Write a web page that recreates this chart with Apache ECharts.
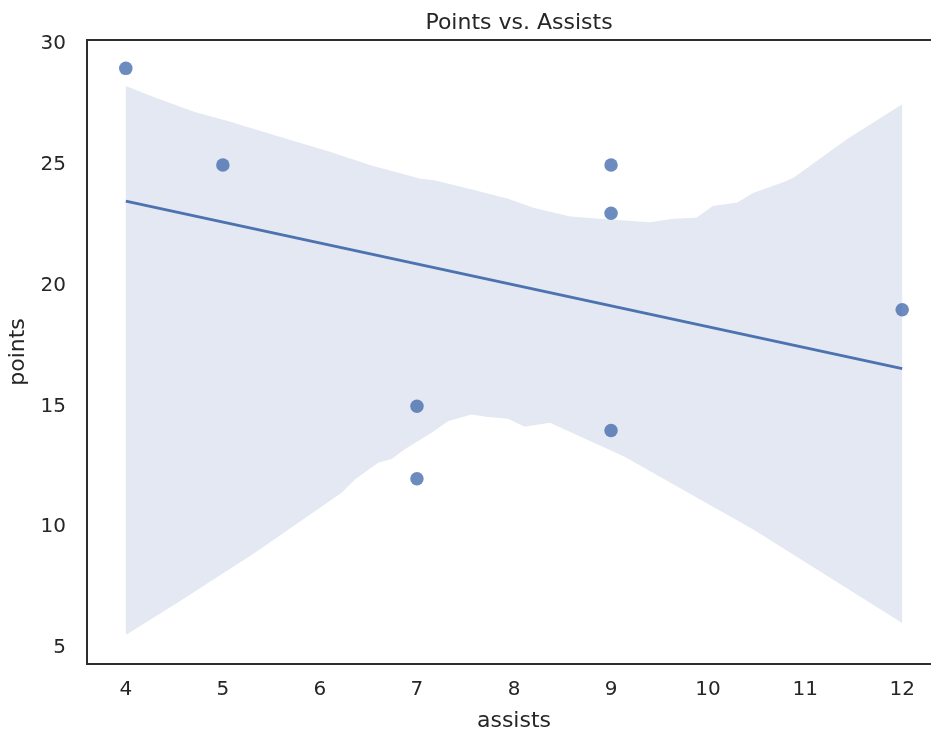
<!DOCTYPE html>
<html><head><meta charset="utf-8">
<script src="https://cdn.jsdelivr.net/npm/echarts@6/dist/echarts.min.js"></script>
<style>html,body{margin:0;padding:0;background:#fff;overflow:hidden;width:931px;height:731px}#c{width:941px;height:731px}</style>
</head><body><div id="c"></div>
<script>
const assists = [4, 5, 7, 7, 9, 9, 9, 12];
const points = [29, 25, 15, 12, 25, 23, 14, 19];
const fitX = [4, 12];
const fitY = [23.5, 16.56];
const bandUpperX = [4, 4.30, 4.71, 5.05, 5.67, 6.08, 6.53, 7.04, 7.18, 7.62, 7.94, 8.20, 8.58, 8.99, 9.40, 9.64, 9.88, 10.05, 10.30, 10.47, 10.78, 10.88, 11.43, 12];
const bandUpperY = [28.27, 27.79, 27.19, 26.82, 26.06, 25.58, 24.98, 24.43, 24.37, 23.93, 23.60, 23.23, 22.86, 22.74, 22.63, 22.77, 22.81, 23.30, 23.44, 23.85, 24.29, 24.47, 26.06, 27.51];
const bandLowerX = [4, 4.54, 5.33, 6.22, 6.36, 6.60, 6.74, 6.87, 7.15, 7.32, 7.56, 7.73, 7.94, 8.11, 8.37, 9.13, 10.47, 12];
const bandLowerY = [5.53, 6.88, 8.93, 11.41, 11.97, 12.66, 12.82, 13.21, 13.90, 14.38, 14.66, 14.56, 14.48, 14.15, 14.32, 12.93, 9.89, 6.02];
const xTicks = [4, 5, 6, 7, 8, 9, 10, 11, 12];
const yTicks = [5, 10, 15, 20, 25, 30];

const FONT = "'DejaVu Sans', sans-serif";
const TXT = '#262626';
const chart = echarts.init(document.getElementById('c'));
chart.setOption({
  animation: false,
  title: { text: 'Points vs. Assists', left: 514, textAlign: 'center', top: 7,
    textStyle: { fontFamily: FONT, fontSize: 22, fontWeight: 'normal', color: TXT } },
  grid: { left: 87, right: 0, top: 40, bottom: 67, outerBoundsMode: 'none', containLabel: false,
    show: true, borderColor: '#2e2e2e', borderWidth: 2, backgroundColor: '#fff' },
  xAxis: {
    type: 'value', min: 3.6, max: 12.4,
    name: 'assists', nameLocation: 'middle', nameGap: 46,
    nameTextStyle: { fontFamily: FONT, fontSize: 22, color: TXT, verticalAlign: 'top' },
    axisLine: { show: true, lineStyle: { color: '#2e2e2e', width: 2 } },
    axisTick: { show: false },
    splitLine: { show: false },
    axisLabel: { customValues: xTicks, margin: 16, fontFamily: FONT, fontSize: 20, color: TXT }
  },
  yAxis: {
    type: 'value', min: 4.325, max: 30.175,
    name: 'points', nameLocation: 'middle', nameGap: 54, nameRotate: 90,
    nameTextStyle: { fontFamily: FONT, fontSize: 22, color: TXT },
    axisLine: { show: true, lineStyle: { color: '#2e2e2e', width: 2 } },
    axisTick: { show: false },
    splitLine: { show: false },
    axisLabel: { customValues: yTicks, margin: 21, fontFamily: FONT, fontSize: 20, color: TXT }
  },
  series: [
    {
      type: 'custom', z: 1, silent: true,
      data: [0],
      renderItem: function (params, api) {
        const pts = [];
        for (let i = 0; i < bandUpperX.length; i++) pts.push(api.coord([bandUpperX[i], bandUpperY[i]]));
        for (let i = bandLowerX.length - 1; i >= 0; i--) pts.push(api.coord([bandLowerX[i], bandLowerY[i]]));
        return { type: 'polygon', shape: { points: pts }, style: { fill: '#e3e8f2', stroke: null } };
      }
    },
    {
      type: 'line', z: 3, data: fitX.map((x, i) => [x, fitY[i]]),
      showSymbol: false, lineStyle: { color: '#4c72b0', width: 3 }
    },
    {
      type: 'scatter', z: 4, data: assists.map((x, i) => [x, points[i]]),
      symbolSize: 13.5, itemStyle: { color: '#4c72b0', opacity: 0.82 }
    }
  ]
});
</script></body></html>
